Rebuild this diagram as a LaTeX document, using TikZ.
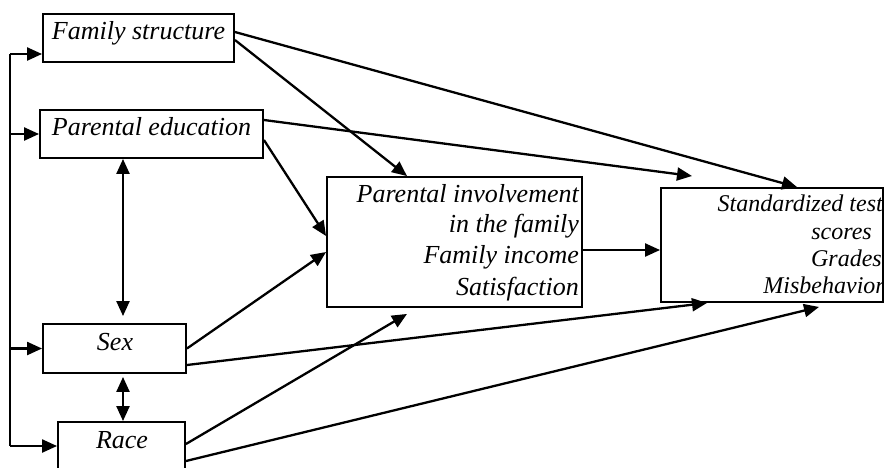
\documentclass[tikz,border=0pt]{standalone}
\usepackage{fontspec}
\setmainfont{Liberation Serif}
\usetikzlibrary{arrows.meta,calc}
\begin{document}
\begin{tikzpicture}[x=1pt,y=-1pt,
  box/.style={draw, line width=1.9pt, inner sep=0pt, rectangle},
  lbl/.style={font=\fontsize{26}{31}\selectfont\itshape, inner sep=0pt, anchor=base},
  rlbl/.style={font=\fontsize{26}{31}\selectfont\itshape, inner sep=0pt, anchor=base east},
  olbl/.style={font=\fontsize{24}{28}\selectfont\itshape, inner sep=0pt, anchor=base east},
  tip/.tip={Triangle[length=15pt,width=13pt]},
  arr/.style={line width=2.3pt, -tip},
  darr/.style={line width=2.3pt, tip-tip},
  ln/.style={line width=2.3pt}]
\useasboundingbox (0,0) rectangle (884,467);
\clip (0,0) rectangle (884,467);
% boxes
\node[box, minimum width=191pt, minimum height=48pt] (fs) at (138.5,38) {};
\node[box, minimum width=223pt, minimum height=48pt] (pe) at (151.5,134) {};
\node[box, minimum width=143pt, minimum height=49pt] (sex) at (114.5,348.5) {};
\node[box, minimum width=127pt, minimum height=68pt] (race) at (121.5,456) {};
\node[box, minimum width=255pt, minimum height=130pt] (mid) at (454.5,242) {};
\node[box, minimum width=222pt, minimum height=114pt] (out) at (772,245) {};
% labels
\node[lbl] (fsT) at (138.5,39) {Family structure};
\node[lbl] (peT) at (151.5,135) {Parental education};
\node[lbl] (sexT) at (115,350) {Sex};
\node[lbl] (raceT) at (122,448) {Race};
\node[rlbl] (m1) at (579,202) {Parental involvement};
\node[rlbl] (m2) at (579,232) {in the family};
\node[rlbl] (m3) at (579,263) {Family income};
\node[rlbl] (m4) at (579,295) {Satisfaction};
\node[olbl] (o1) at (883,211) {Standardized test};
\node[olbl] (o2) at (872,239) {scores};
\node[olbl] (o3) at (882,266) {Grades};
\node[olbl] (o4) at (885,293) {Misbehavior};
% left bus
\coordinate (bt) at (10,54);
\coordinate (bb) at (10,446);
\draw[ln] (bt) -- (bb);
\draw[arr] (bt) -- ([yshift=-16pt]fs.west);
\draw[arr] (pe.west -| bt) -- (pe.west);
\draw[arr] (sex.west -| bt) -- (sex.west);
\draw[arr] (bb) -- (bb -| race.west);
% double arrows
\coordinate (dx) at (123,0);
\draw[darr, shorten >=7pt] (pe.south -| dx) -- (sex.north -| dx);
\draw[darr, shorten <=3pt] (sex.south -| dx) -- (race.north -| dx);
% connectors
\coordinate (pefree) at (692,176);
\draw[arr] ([yshift=6pt]fs.east) -- ([xshift=25pt]out.north);
\draw[arr] ([yshift=-2pt]fs.east) -- ([xshift=-47.5pt]mid.north);
\draw[arr] ([yshift=14pt]pe.east) -- (pefree);
\draw[arr] ([yshift=-6pt]pe.east) -- ([yshift=6pt]mid.west);
\draw[arr] ([yshift=-8pt]mid.east) -- ([yshift=-8pt]mid.east -| out.west);
\draw[arr] (sex.east) -- ([yshift=-10pt]mid.west);
\draw[arr] ([yshift=-16.5pt]sex.east) -- ([xshift=-65pt]out.south);
\draw[arr] ([yshift=12pt]race.east) -- ([xshift=-47.5pt,yshift=-6pt]mid.south);
\draw[arr] ([yshift=-5pt]race.east) -- ([xshift=47pt,yshift=-4pt]out.south);
\end{tikzpicture}
\end{document}
